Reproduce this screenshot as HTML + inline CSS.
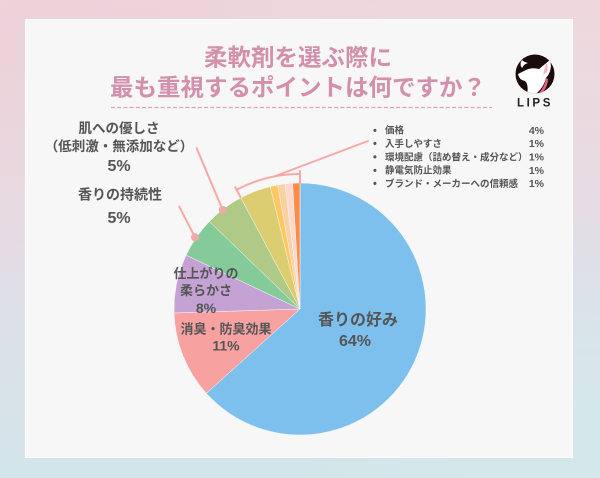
<!DOCTYPE html>
<html><head><meta charset="utf-8">
<style>
html,body{margin:0;padding:0;}
body{width:600px;height:478px;overflow:hidden;background:linear-gradient(180deg,#eed8dd 0%,#e8dbe2 35%,#dde0e8 65%,#d2e5ea 100%);}
svg{display:block;}
text{font-family:"Liberation Sans","Noto Sans CJK JP",sans-serif;font-weight:bold;}
</style></head><body>
<svg width="600" height="478" viewBox="0 0 600 478" xmlns="http://www.w3.org/2000/svg">
<defs>
<radialGradient id="bg1" cx="0.1" cy="0.05" r="0.6">
<stop offset="0" stop-color="#ecd0d8" stop-opacity="0.8"/>
<stop offset="1" stop-color="#ecd0d8" stop-opacity="0"/>
</radialGradient>
<radialGradient id="bg2" cx="0.95" cy="0.95" r="0.5">
<stop offset="0" stop-color="#d4e9ec" stop-opacity="0.9"/>
<stop offset="1" stop-color="#d4e9ec" stop-opacity="0"/>
</radialGradient>
<clipPath id="logoclip"><circle cx="535" cy="74" r="19.5"/></clipPath>
</defs>
<rect x="0" y="0" width="600" height="478" fill="url(#bg1)"/>
<rect x="0" y="0" width="600" height="478" fill="url(#bg2)"/>
<!-- card -->
<rect x="25.5" y="19.5" width="547" height="438" fill="#f7f7f7" stroke="#ffffff" stroke-width="1"/>

<!-- title -->
<text x="298" y="65.5" font-size="23.5" fill="#d38fab" text-anchor="middle">柔軟剤を選ぶ際に</text>
<text x="298" y="95.5" font-size="23.5" fill="#d38fab" text-anchor="middle">最も重視するポイントは何ですか？</text>
<line x1="111" y1="107.5" x2="492" y2="107.5" stroke="#d9a3b9" stroke-width="1.3" stroke-dasharray="4,2.2"/>

<!-- logo -->
<circle cx="535" cy="74" r="19.5" fill="#1a0a0c"/>
<g clip-path="url(#logoclip)">
<path d="M522,60 Q519,64 522,68 Q524,64 528,63 Q524,62 522,60 Z" fill="#ffffff"/>
<path d="M518,74 L526,70 Q532,67 539,69 L550,60 Q553,70 546,78 Q544,87 536,94 L527,94 Q529,85 525,81 Q519,80 518,74 Z" fill="#ffffff"/>
<path d="M546,63 Q549,66 547,72 L543,75 Z" fill="#f3b6c6"/>
<path d="M546,78 Q545,87 538,94 L541,94 Q548,87 548,79 Z" fill="#e8607e"/>
</g>
<text x="535" y="106.5" font-size="11.5" fill="#222" text-anchor="middle" letter-spacing="2.6">LIPS</text>

<!-- pie -->
<g stroke="#f7f7f7" stroke-width="0.5">
<path d="M300,309 L300,183 A126,126 0 1 1 206.37,393.31 Z" fill="#7dc0ed"/>
<path d="M300,309 L206.37,393.31 A126,126 0 0 1 174.06,312.96 Z" fill="#f7a1a1"/>
<path d="M300,309 L174.06,312.96 A126,126 0 0 1 186.08,255.15 Z" fill="#c4a3d4"/>
<path d="M300,309 L186.08,255.15 A126,126 0 0 1 209.37,221.47 Z" fill="#85cb9a"/>
<path d="M300,309 L209.37,221.47 A126,126 0 0 1 240.85,197.75 Z" fill="#aeca86"/>
<path d="M300,309 L240.85,197.75 A126,126 0 0 1 270.16,186.59 Z" fill="#dccd70"/>
<path d="M300,309 L270.16,186.59 A126,126 0 0 1 277.58,185.02 Z" fill="#fec762"/>
<path d="M300,309 L277.58,185.02 A126,126 0 0 1 285.08,183.88 Z" fill="#fdd09f"/>
<path d="M300,309 L285.08,183.88 A126,126 0 0 1 292.53,183.23 Z" fill="#fdd8cd"/>
<path d="M300,309 L292.53,183.23 A126,126 0 0 1 300,183 Z" fill="#fd8c46"/>
</g>

<!-- callouts -->
<g stroke="#f8a7a7" stroke-width="2" fill="none" stroke-linecap="round">
<line x1="196.7" y1="148.3" x2="222.7" y2="210"/>
<line x1="179.3" y1="206.7" x2="195" y2="237.3"/>
<path d="M236.6,189.8 A135,135 0 0 1 300,174"/>
<line x1="240.4" y1="196.9" x2="235.2" y2="187.2"/>
<line x1="300" y1="183" x2="300" y2="171"/>
<line x1="274" y1="176.5" x2="368" y2="141"/>
</g>
<circle cx="222.7" cy="210" r="4" fill="#f2a9a9"/>
<circle cx="195" cy="237.3" r="4" fill="#f2a9a9"/>

<!-- labels -->
<g fill="#555555" text-anchor="middle">
<text x="119" y="133" font-size="13.5">肌への優しさ</text>
<text x="119" y="150.8" font-size="13.5">（低刺激・無添加など）</text>
<text x="119" y="170.8" font-size="16">5%</text>
<text x="120" y="199.3" font-size="14">香りの持続性</text>
<text x="119" y="223" font-size="16">5%</text>
<text x="206" y="278.2" font-size="13">仕上がりの</text>
<text x="206" y="295" font-size="13">柔らかさ</text>
<text x="206" y="313" font-size="14">8%</text>
<text x="226" y="333.3" font-size="13">消臭・防臭効果</text>
<text x="226" y="350.4" font-size="14">11%</text>
<text x="358" y="325" font-size="16">香りの好み</text>
<text x="355" y="345.8" font-size="16">64%</text>
</g>

<!-- legend -->
<g fill="#555555" font-size="9.5">
<text x="373" y="133.8" font-size="11">•</text>
<text x="385" y="133.6">価格</text>
<text x="544" y="133.8" text-anchor="end" font-size="10.5">4%</text>
<text x="373" y="147.1" font-size="11">•</text>
<text x="385" y="146.9">入手しやすさ</text>
<text x="544" y="147.1" text-anchor="end" font-size="10.5">1%</text>
<text x="373" y="160.5" font-size="11">•</text>
<text x="385" y="160.3">環境配慮（詰め替え・成分など）</text>
<text x="544" y="160.5" text-anchor="end" font-size="10.5">1%</text>
<text x="373" y="173.8" font-size="11">•</text>
<text x="385" y="173.6">静電気防止効果</text>
<text x="544" y="173.8" text-anchor="end" font-size="10.5">1%</text>
<text x="373" y="187.1" font-size="11">•</text>
<text x="385" y="186.9">ブランド・メーカーへの信頼感</text>
<text x="544" y="187.1" text-anchor="end" font-size="10.5">1%</text>
</g>
</svg>
</body></html>
